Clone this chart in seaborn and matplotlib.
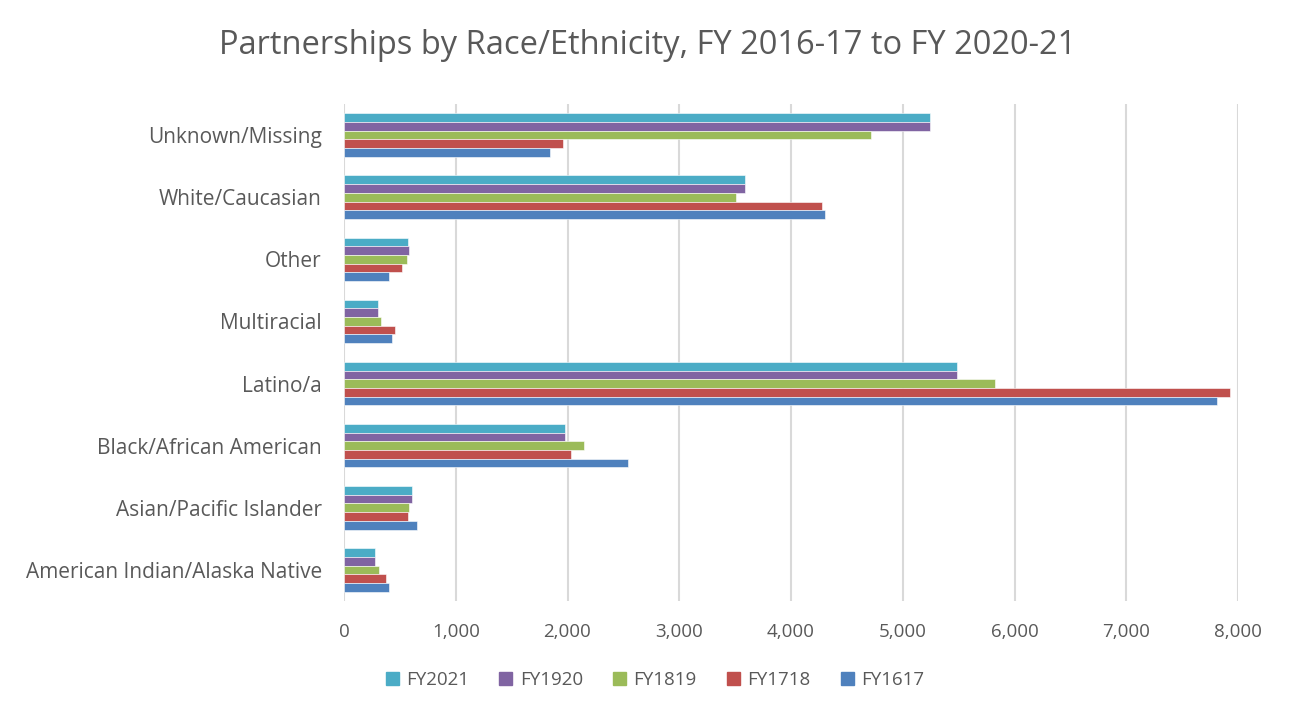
import matplotlib
matplotlib.use("Agg")
import matplotlib.pyplot as plt
import matplotlib.ticker as mticker
import pandas as pd
import seaborn as sns

# categories, top to bottom
categories = ["Unknown/Missing", "White/Caucasian", "Other", "Multiracial",
              "Latino/a", "Black/African American", "Asian/Pacific Islander",
              "American Indian/Alaska Native"]
years = ["FY2021", "FY1920", "FY1819", "FY1718", "FY1617"]

fy2021 = [5240, 3585, 576, 307, 5485, 1980, 608, 280]
fy1920 = [5240, 3585, 578, 307, 5485, 1980, 611, 280]
fy1819 = [4716, 3504, 567, 334, 5825, 2150, 582, 313]
fy1718 = [1960, 4277, 516, 453, 7932, 2028, 573, 376]
fy1617 = [1839, 4308, 405, 430, 7815, 2542, 653, 403]

colors = ["#4BACC6", "#8064A2", "#9BBB59", "#C0504D", "#4F81BD"]

series = [fy2021, fy1920, fy1819, fy1718, fy1617]
rows = []
for yr, vals in zip(years, series):
    for cat, v in zip(categories, vals):
        rows.append({"category": cat, "year": yr, "value": v})
df = pd.DataFrame(rows)

sns.set_style("white")
plt.rcParams["font.family"] = ["Open Sans", "DejaVu Sans"]
text_color = "#595959"

fig = plt.figure(figsize=(12.96, 7.17), dpi=100)
ax = fig.add_axes([344 / 1296, 1 - 601 / 717, (1238 - 344) / 1296, (601 - 104) / 717])

sns.barplot(data=df, y="category", x="value", hue="year", order=categories,
            hue_order=years, palette=colors, orient="h", width=0.7,
            edgecolor="white", linewidth=0.4, saturation=1, ax=ax)

ax.set_xlim(0, 8000)
ax.xaxis.set_major_locator(mticker.MultipleLocator(1000))
ax.xaxis.set_major_formatter(mticker.FuncFormatter(lambda v, p: f"{int(v):,}"))
ax.grid(axis="x", color="#D9D9D9", linewidth=1.5)
ax.set_axisbelow(True)
for s in ax.spines.values():
    s.set_visible(False)
ax.set_xlabel("")
ax.set_ylabel("")
ax.tick_params(axis="y", length=0, pad=16, labelsize=15, labelcolor=text_color)
ax.tick_params(axis="x", length=0, pad=16, labelsize=13.5, labelcolor=text_color)

ax.legend_.remove()
handles = [plt.Rectangle((0, 0), 1, 1, color=c) for c in colors]
fig.legend(handles, years, loc="center", bbox_to_anchor=(655 / 1296, 1 - 680 / 717),
           ncol=5, frameon=False, fontsize=13.5, labelcolor=text_color,
           handlelength=0.7, handleheight=0.7, handletextpad=0.4, columnspacing=1.6)

fig.text(0.5, 1 - 45 / 717, "Partnerships by Race/Ethnicity, FY 2016-17 to FY 2020-21",
         ha="center", va="center", fontsize=23.5, color=text_color)

fig.savefig("out.png", dpi=100)
